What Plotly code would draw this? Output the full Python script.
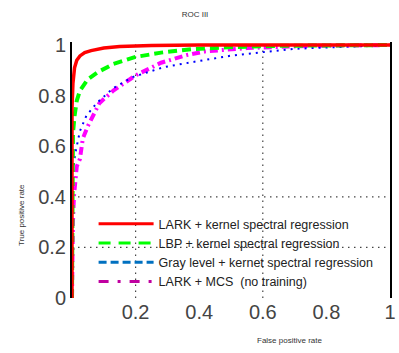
import plotly.graph_objects as go

# ---- data ----
red_fpr = [0, 0, 0.003, 0.008, 0.015, 0.025, 0.04, 0.06, 0.1, 0.15, 0.25, 0.4, 1.0]
red_tpr = [0, 0.75, 0.85, 0.91, 0.94, 0.957, 0.97, 0.978, 0.988, 0.994, 0.998, 1.0, 1.0]

green_fpr = [0, 0, 0.003, 0.008, 0.015, 0.025, 0.05, 0.08, 0.13, 0.2, 0.28, 0.38, 0.5, 0.65, 0.8, 1.0]
green_tpr = [0, 0.55, 0.65, 0.72, 0.78, 0.82, 0.865, 0.892, 0.925, 0.953, 0.97, 0.984, 0.992, 0.997, 1.0, 1.0]

blue_fpr = [0, 0, 0.003, 0.01, 0.025, 0.045, 0.077, 0.13, 0.19, 0.29, 0.39, 0.5, 0.6, 0.7, 0.85, 1.0]
blue_tpr = [0, 0.4, 0.5, 0.57, 0.66, 0.72, 0.77, 0.83, 0.873, 0.913, 0.935, 0.958, 0.972, 0.985, 0.993, 1.0]

mag_fpr = [0, 0.001, 0.003, 0.006, 0.01, 0.015, 0.025, 0.034, 0.05, 0.086, 0.13, 0.2, 0.28, 0.36, 0.42, 0.55, 0.75, 1.0]
mag_tpr = [0, 0.15, 0.3, 0.4, 0.46, 0.52, 0.55, 0.63, 0.68, 0.77, 0.82, 0.88, 0.93, 0.96, 0.975, 0.988, 0.997, 1.0]

legend_names = [
    "LARK + kernel spectral regression",
    "LBP + kernel spectral regression",
    "Gray level + kernet spectral regression",
    "LARK + MCS  (no training)",
]

x_ticks = [0.2, 0.4, 0.6, 0.8, 1.0]
x_tick_text = ["0.2", "0.4", "0.6", "0.8", "1"]
y_ticks = [0, 0.2, 0.4, 0.6, 0.8, 1.0]
y_tick_text = ["0", "0.2", "0.4", "0.6", "0.8", "1"]

grid_x = [0.2, 0.6]
grid_y = [0.2, 0.4]

FONT = "Liberation Sans, Arial, sans-serif"

fig = go.Figure()

# curves as drawn in the plot
fig.add_trace(go.Scatter(x=mag_fpr, y=mag_tpr, mode="lines", showlegend=False,
                         line=dict(color="#ff00ff", width=4, dash="8px,4px,2px,4px")))
fig.add_trace(go.Scatter(x=blue_fpr, y=blue_tpr, mode="lines", showlegend=False,
                         line=dict(color="#0000ff", width=2, dash="2px,5px")))
fig.add_trace(go.Scatter(x=green_fpr, y=green_tpr, mode="lines", showlegend=False,
                         line=dict(color="#00ff00", width=4, dash="9px,5px")))
fig.add_trace(go.Scatter(x=red_fpr, y=red_tpr, mode="lines", showlegend=False,
                         line=dict(color="#ff0000", width=3.5)))

# legend entries (the legend uses its own styles)
leg_styles = [
    dict(color="#ff0000", width=3, dash="solid"),
    dict(color="#00ff00", width=3, dash="12px,8px"),
    dict(color="#0070c0", width=3, dash="8px,4px"),
    dict(color="#c000a0", width=3, dash="10px,9px,3px,9px"),
]
for name, st in zip(legend_names, leg_styles):
    fig.add_trace(go.Scatter(x=[None], y=[None], mode="lines", name=name, line=st))

shapes = []
for gx in grid_x:
    shapes.append(dict(type="line", xref="x", yref="paper", x0=gx, x1=gx, y0=0, y1=1,
                       line=dict(color="#444", width=1.2, dash="1.5px,4.5px"), layer="below"))
for gy in grid_y:
    shapes.append(dict(type="line", xref="x", yref="y", x0=0, x1=1, y0=gy, y1=gy,
                       line=dict(color="#444", width=1.2, dash="1.5px,4.5px"), layer="below"))

fig.update_layout(
    width=399, height=353,
    margin=dict(l=72, r=3, t=42, b=55),
    paper_bgcolor="white", plot_bgcolor="white",
    font=dict(family=FONT, color="#333"),
    title=dict(text="ROC III", x=195 / 399, xanchor="center", y=1 - 14 / 353, yanchor="middle",
               font=dict(size=8, color="#333")),
    shapes=shapes,
    showlegend=True,
    legend=dict(x=(94 - 72) / 324, y=(298 - 209) / 256, xanchor="left", yanchor="top",
                bgcolor="rgba(0,0,0,0)", font=dict(size=12.5, color="#222"),
                traceorder="normal", itemwidth=55, tracegroupgap=0),
    xaxis=dict(range=[0, 1], showgrid=False, zeroline=False, showline=False,
               tickvals=x_ticks, ticktext=x_tick_text, ticks="",
               ticklabeloverflow="allow",
               tickfont=dict(size=20, color="#444")),
    yaxis=dict(range=[0, 1.012], showgrid=False, zeroline=False, showline=True,
               mirror=True, linecolor="black", linewidth=2,
               tickvals=y_ticks, ticktext=y_tick_text, ticks="",
               tickfont=dict(size=20, color="#444")),
    annotations=[
        dict(text="True positive rate", xref="paper", yref="paper",
             x=(20 - 72) / 324, y=(298 - 215) / 256, showarrow=False, textangle=-90,
             font=dict(size=8, color="#333"), xanchor="center", yanchor="middle"),
        dict(text="False positive rate", xref="paper", yref="paper",
             x=(294 - 72) / 324, y=(298 - 340) / 256, showarrow=False,
             font=dict(size=8, color="#333"), xanchor="center", yanchor="middle"),
    ],
)

fig.write_html("out.html")
